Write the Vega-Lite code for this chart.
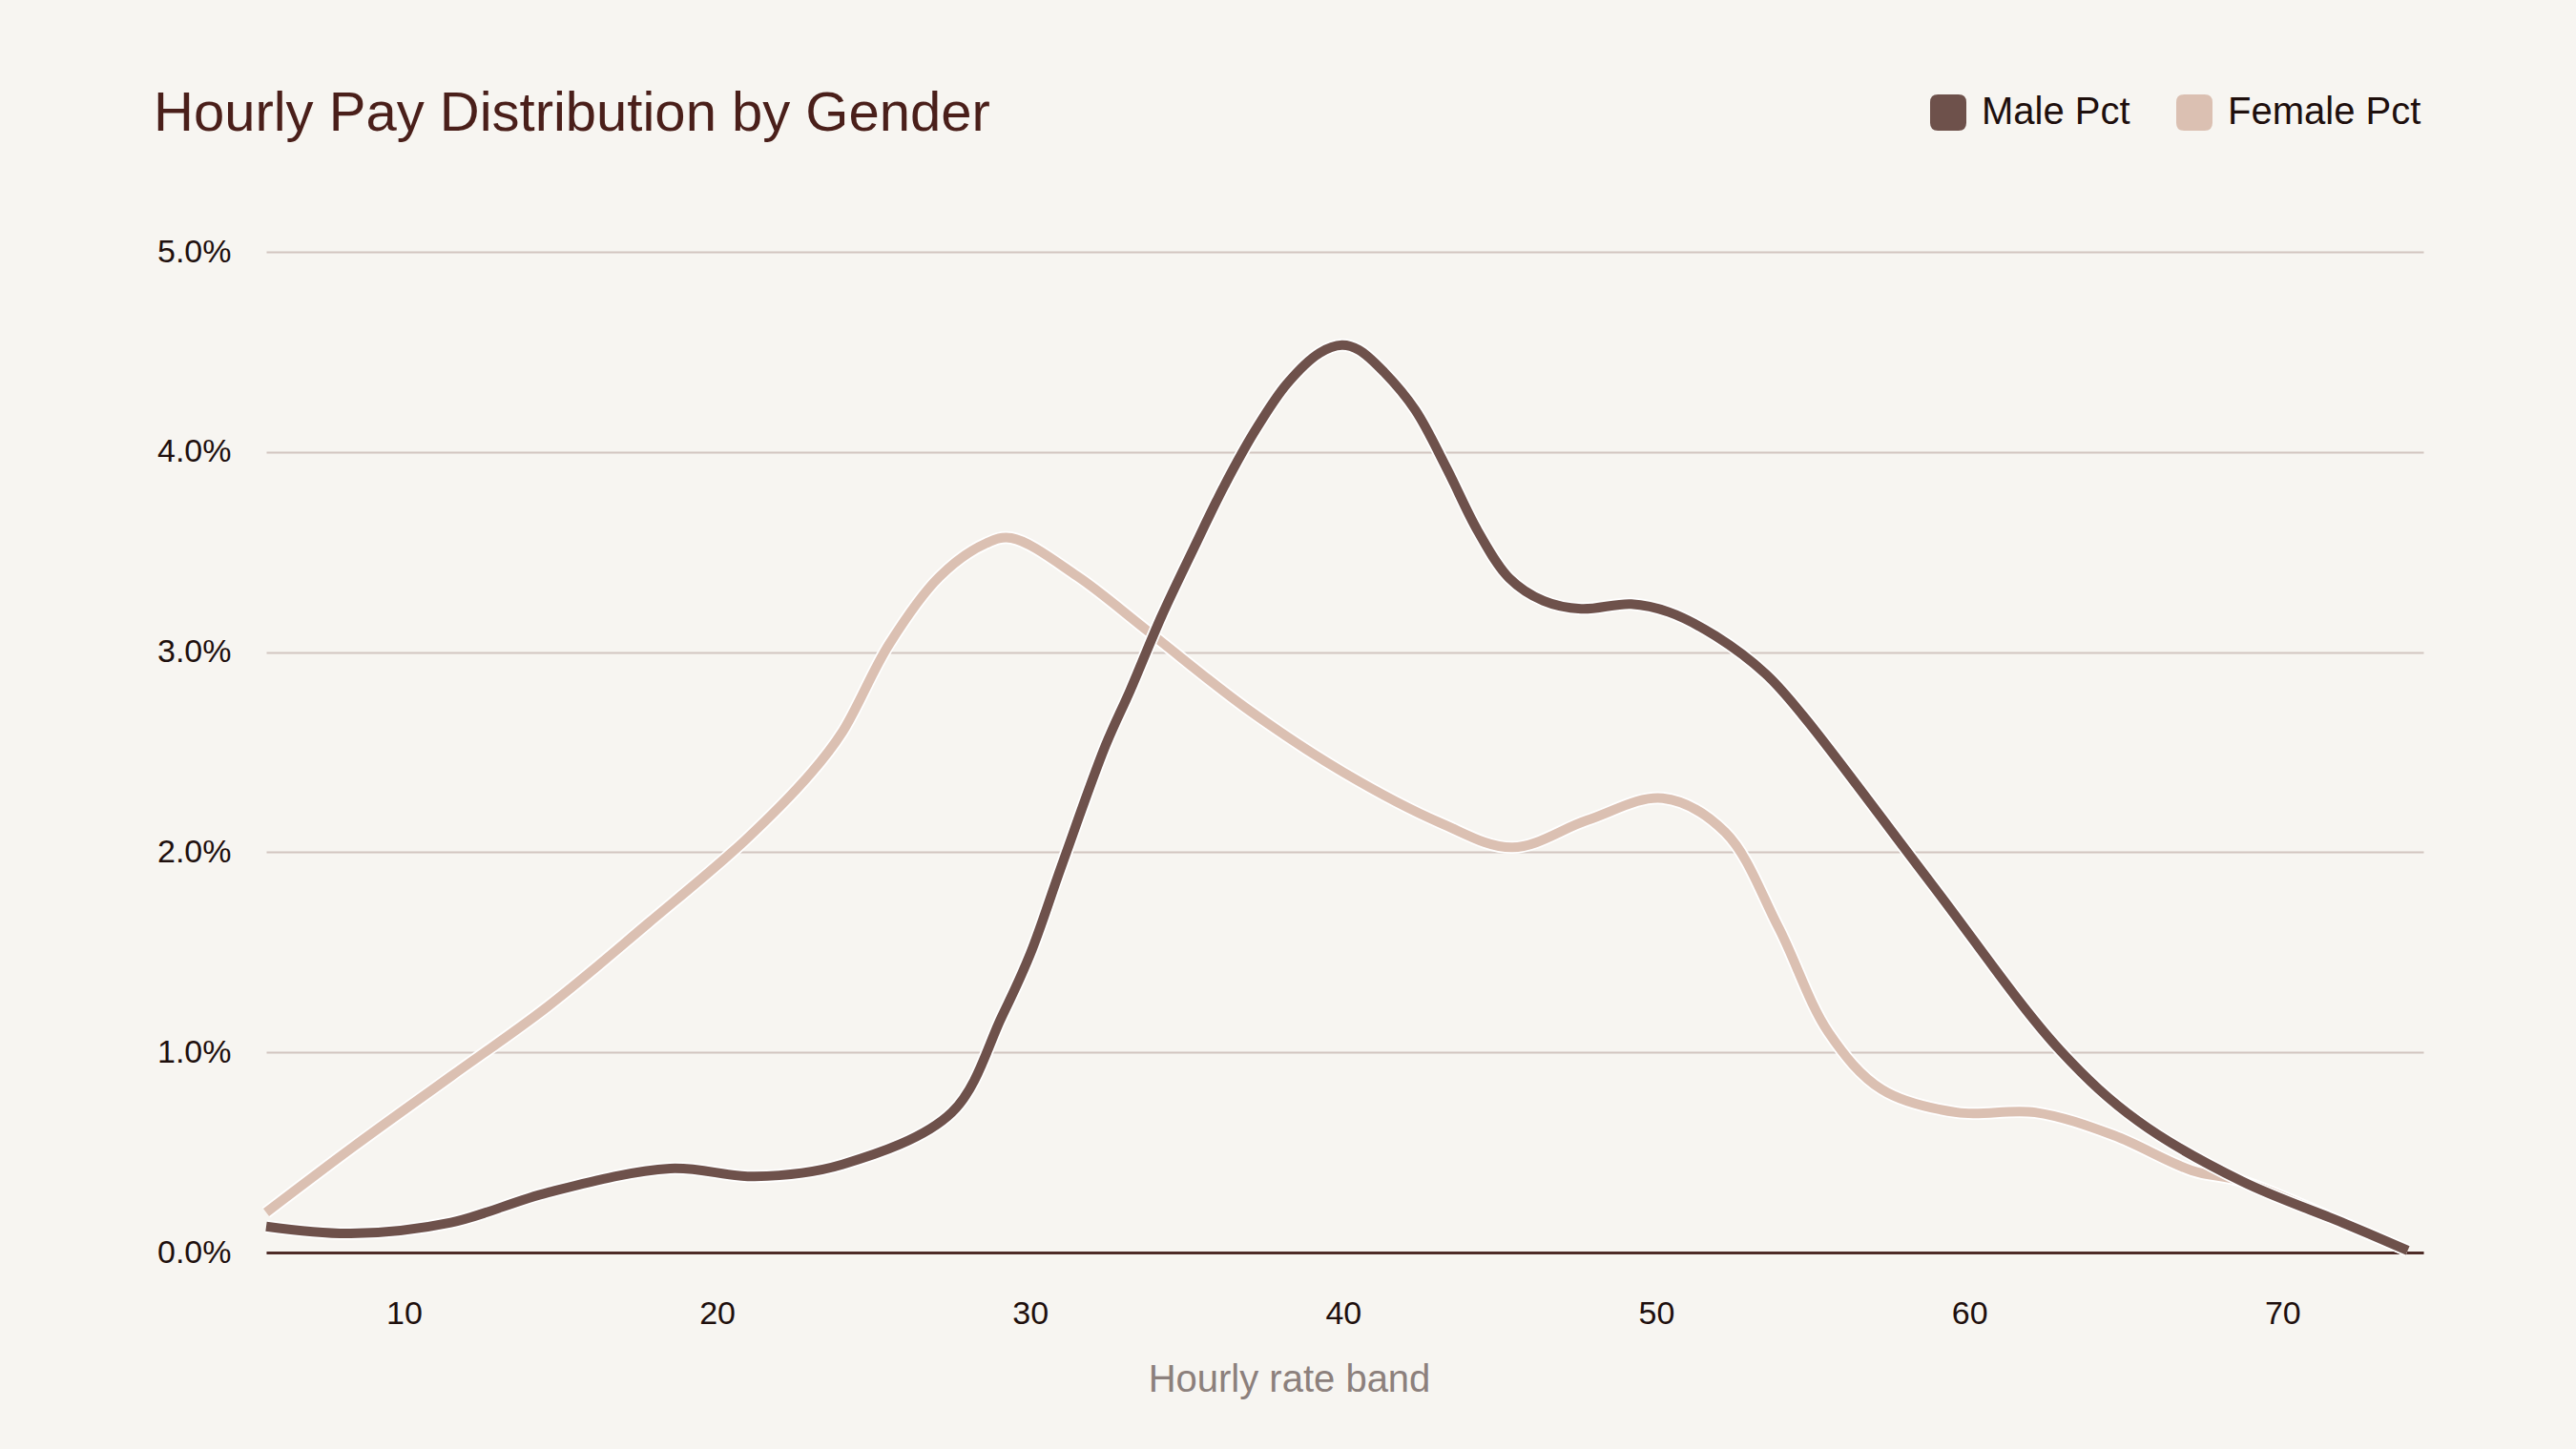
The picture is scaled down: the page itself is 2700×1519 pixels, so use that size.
{
  "$schema": "https://vega.github.io/schema/vega-lite/v6.json",
  "autosize": {"type": "none"},
  "padding": {"left": 279, "top": 264, "right": 160, "bottom": 206},
  "width": 2261,
  "height": 1049,
  "background": "#f7f5f1",
  "title": {
    "text": "Hourly Pay Distribution by Gender",
    "anchor": "start",
    "frame": "group",
    "orient": "top",
    "baseline": "alphabetic",
    "offset": -97,
    "dx": -118,
    "font": "Liberation Sans",
    "fontSize": 58,
    "fontWeight": "normal",
    "color": "#4a1f1a"
  },
  "config": {
    "view": {"stroke": null},
    "font": "Liberation Sans"
  },
  "data": {
    "values": [
      {"band": 5.6, "series": "Male Pct", "pct": 0.0013},
      {"band": 8.3, "series": "Male Pct", "pct": 0.00095},
      {"band": 11.5, "series": "Male Pct", "pct": 0.0015},
      {"band": 14.6, "series": "Male Pct", "pct": 0.003},
      {"band": 18.5, "series": "Male Pct", "pct": 0.0042},
      {"band": 21.2, "series": "Male Pct", "pct": 0.0038},
      {"band": 24.0, "series": "Male Pct", "pct": 0.0044},
      {"band": 27.5, "series": "Male Pct", "pct": 0.007},
      {"band": 29.1, "series": "Male Pct", "pct": 0.0118},
      {"band": 30.0, "series": "Male Pct", "pct": 0.0149},
      {"band": 31.0, "series": "Male Pct", "pct": 0.0193},
      {"band": 32.4, "series": "Male Pct", "pct": 0.0253},
      {"band": 33.2, "series": "Male Pct", "pct": 0.0281},
      {"band": 34.2, "series": "Male Pct", "pct": 0.0318},
      {"band": 35.2, "series": "Male Pct", "pct": 0.0351},
      {"band": 36.2, "series": "Male Pct", "pct": 0.0383},
      {"band": 37.2, "series": "Male Pct", "pct": 0.0411},
      {"band": 38.2, "series": "Male Pct", "pct": 0.0434},
      {"band": 39.25, "series": "Male Pct", "pct": 0.04495},
      {"band": 39.96, "series": "Male Pct", "pct": 0.04534},
      {"band": 40.5, "series": "Male Pct", "pct": 0.0451},
      {"band": 41.3, "series": "Male Pct", "pct": 0.044},
      {"band": 42.3, "series": "Male Pct", "pct": 0.0421},
      {"band": 43.3, "series": "Male Pct", "pct": 0.0392},
      {"band": 44.3, "series": "Male Pct", "pct": 0.03605},
      {"band": 45.3, "series": "Male Pct", "pct": 0.0337},
      {"band": 46.4, "series": "Male Pct", "pct": 0.03256},
      {"band": 47.6, "series": "Male Pct", "pct": 0.03216},
      {"band": 49.2, "series": "Male Pct", "pct": 0.0324},
      {"band": 50.4, "series": "Male Pct", "pct": 0.032},
      {"band": 51.9, "series": "Male Pct", "pct": 0.0308},
      {"band": 53.5, "series": "Male Pct", "pct": 0.0289},
      {"band": 54.7, "series": "Male Pct", "pct": 0.0268},
      {"band": 58.8, "series": "Male Pct", "pct": 0.0184},
      {"band": 62.9, "series": "Male Pct", "pct": 0.0101},
      {"band": 65.4, "series": "Male Pct", "pct": 0.00655},
      {"band": 68.7, "series": "Male Pct", "pct": 0.00356},
      {"band": 72.0, "series": "Male Pct", "pct": 0.00144},
      {"band": 74.0, "series": "Male Pct", "pct": 0.0001},
      {"band": 5.6, "series": "Female Pct", "pct": 0.002},
      {"band": 8.4, "series": "Female Pct", "pct": 0.0053},
      {"band": 11.5, "series": "Female Pct", "pct": 0.0088},
      {"band": 14.6, "series": "Female Pct", "pct": 0.0123},
      {"band": 17.8, "series": "Female Pct", "pct": 0.01645},
      {"band": 20.9, "series": "Female Pct", "pct": 0.0206},
      {"band": 23.0, "series": "Female Pct", "pct": 0.02395},
      {"band": 24.0, "series": "Female Pct", "pct": 0.026},
      {"band": 25.5, "series": "Female Pct", "pct": 0.0304},
      {"band": 27.1, "series": "Female Pct", "pct": 0.03376},
      {"band": 28.6, "series": "Female Pct", "pct": 0.03544},
      {"band": 29.4, "series": "Female Pct", "pct": 0.0357},
      {"band": 31.5, "series": "Female Pct", "pct": 0.0338},
      {"band": 33.8, "series": "Female Pct", "pct": 0.031},
      {"band": 36.9, "series": "Female Pct", "pct": 0.0272},
      {"band": 40.0, "series": "Female Pct", "pct": 0.024},
      {"band": 43.1, "series": "Female Pct", "pct": 0.02147},
      {"band": 45.4, "series": "Female Pct", "pct": 0.02024},
      {"band": 47.8, "series": "Female Pct", "pct": 0.0216},
      {"band": 50.2, "series": "Female Pct", "pct": 0.0227},
      {"band": 52.2, "series": "Female Pct", "pct": 0.021},
      {"band": 53.9, "series": "Female Pct", "pct": 0.01625},
      {"band": 55.5, "series": "Female Pct", "pct": 0.011},
      {"band": 57.2, "series": "Female Pct", "pct": 0.00815},
      {"band": 59.6, "series": "Female Pct", "pct": 0.007},
      {"band": 62.1, "series": "Female Pct", "pct": 0.007},
      {"band": 64.6, "series": "Female Pct", "pct": 0.00586},
      {"band": 67.1, "series": "Female Pct", "pct": 0.0041},
      {"band": 68.7, "series": "Female Pct", "pct": 0.00356},
      {"band": 72.0, "series": "Female Pct", "pct": 0.00144},
      {"band": 74.0, "series": "Female Pct", "pct": 0.0001}
    ]
  },
  "encoding": {
    "x": {
      "field": "band",
      "type": "quantitative",
      "scale": {"domain": [5.6, 74.5], "nice": false, "zero": false},
      "axis": {
        "title": "Hourly rate band",
        "values": [10, 20, 30, 40, 50, 60, 70],
        "grid": false,
        "ticks": false,
        "tickSize": 0,
        "domain": true,
        "domainColor": "#4e2b27",
        "domainWidth": 3,
        "labelFont": "Liberation Sans",
        "labelFontSize": 34,
        "labelColor": "#1e0f0d",
        "labelPadding": 47,
        "labelBaseline": "top",
        "titleFont": "Liberation Sans",
        "titleFontSize": 40,
        "titleFontWeight": "normal",
        "titleColor": "#8c807c",
        "titleX": 1072,
        "titleY": 145,
        "titleAlign": "center",
        "titleBaseline": "alphabetic"
      }
    },
    "y": {
      "field": "pct",
      "type": "quantitative",
      "scale": {"domain": [0, 0.05], "nice": false},
      "axis": {
        "title": null,
        "values": [0, 0.01, 0.02, 0.03, 0.04, 0.05],
        "format": ".1%",
        "grid": true,
        "gridColor": "#d2c5c0",
        "gridWidth": 2,
        "ticks": false,
        "tickSize": 0,
        "domain": false,
        "labelFont": "Liberation Sans",
        "labelFontSize": 34,
        "labelColor": "#1e0f0d",
        "labelPadding": 37
      }
    }
  },
  "layer": [
    {
      "transform": [{"filter": "datum.series === 'Female Pct'"}],
      "mark": {"type": "line", "interpolate": "catmull-rom", "color": "#ffffff", "strokeWidth": 13.5, "strokeCap": "butt"}
    },
    {
      "transform": [{"filter": "datum.series === 'Female Pct'"}],
      "mark": {"type": "line", "interpolate": "catmull-rom", "strokeWidth": 10, "strokeCap": "butt"},
      "encoding": {
        "color": {
          "field": "series",
          "type": "nominal",
          "scale": {"domain": ["Male Pct", "Female Pct"], "range": ["#6e514b", "#dbc0b2"]},
          "legend": {
            "title": null,
            "orient": "none",
            "direction": "horizontal",
            "legendX": 1743,
            "legendY": -166,
            "padding": 0,
            "symbolType": "M -0.6,-1 L 0.6,-1 Q 1,-1 1,-0.6 L 1,0.6 Q 1,1 0.6,1 L -0.6,1 Q -1,1 -1,0.6 L -1,-0.6 Q -1,-1 -0.6,-1 Z",
            "symbolSize": 1296,
            "symbolStrokeColor": "#4a2622",
            "symbolStrokeWidth": 2,
            "labelFont": "Liberation Sans",
            "labelFontSize": 40,
            "labelLimit": 500,
            "labelColor": "#1e0f0d",
            "labelOffset": 15,
            "columnPadding": 45,
            "encode": {
              "symbols": {
                "update": {
                  "fill": {"scale": "color", "field": "value"},
                  "stroke": {"value": "#4a2622"},
                  "strokeWidth": {"value": 2},
                  "opacity": {"value": 1}
                }
              }
            }
          }
        }
      }
    },
    {
      "transform": [{"filter": "datum.series === 'Male Pct'"}],
      "mark": {"type": "line", "interpolate": "catmull-rom", "color": "#ffffff", "strokeWidth": 13.5, "strokeCap": "butt"}
    },
    {
      "transform": [{"filter": "datum.series === 'Male Pct'"}],
      "mark": {"type": "line", "interpolate": "catmull-rom", "strokeWidth": 10, "strokeCap": "butt"},
      "encoding": {
        "color": {
          "field": "series",
          "type": "nominal",
          "scale": {"domain": ["Male Pct", "Female Pct"], "range": ["#6e514b", "#dbc0b2"]}
        }
      }
    }
  ]
}
